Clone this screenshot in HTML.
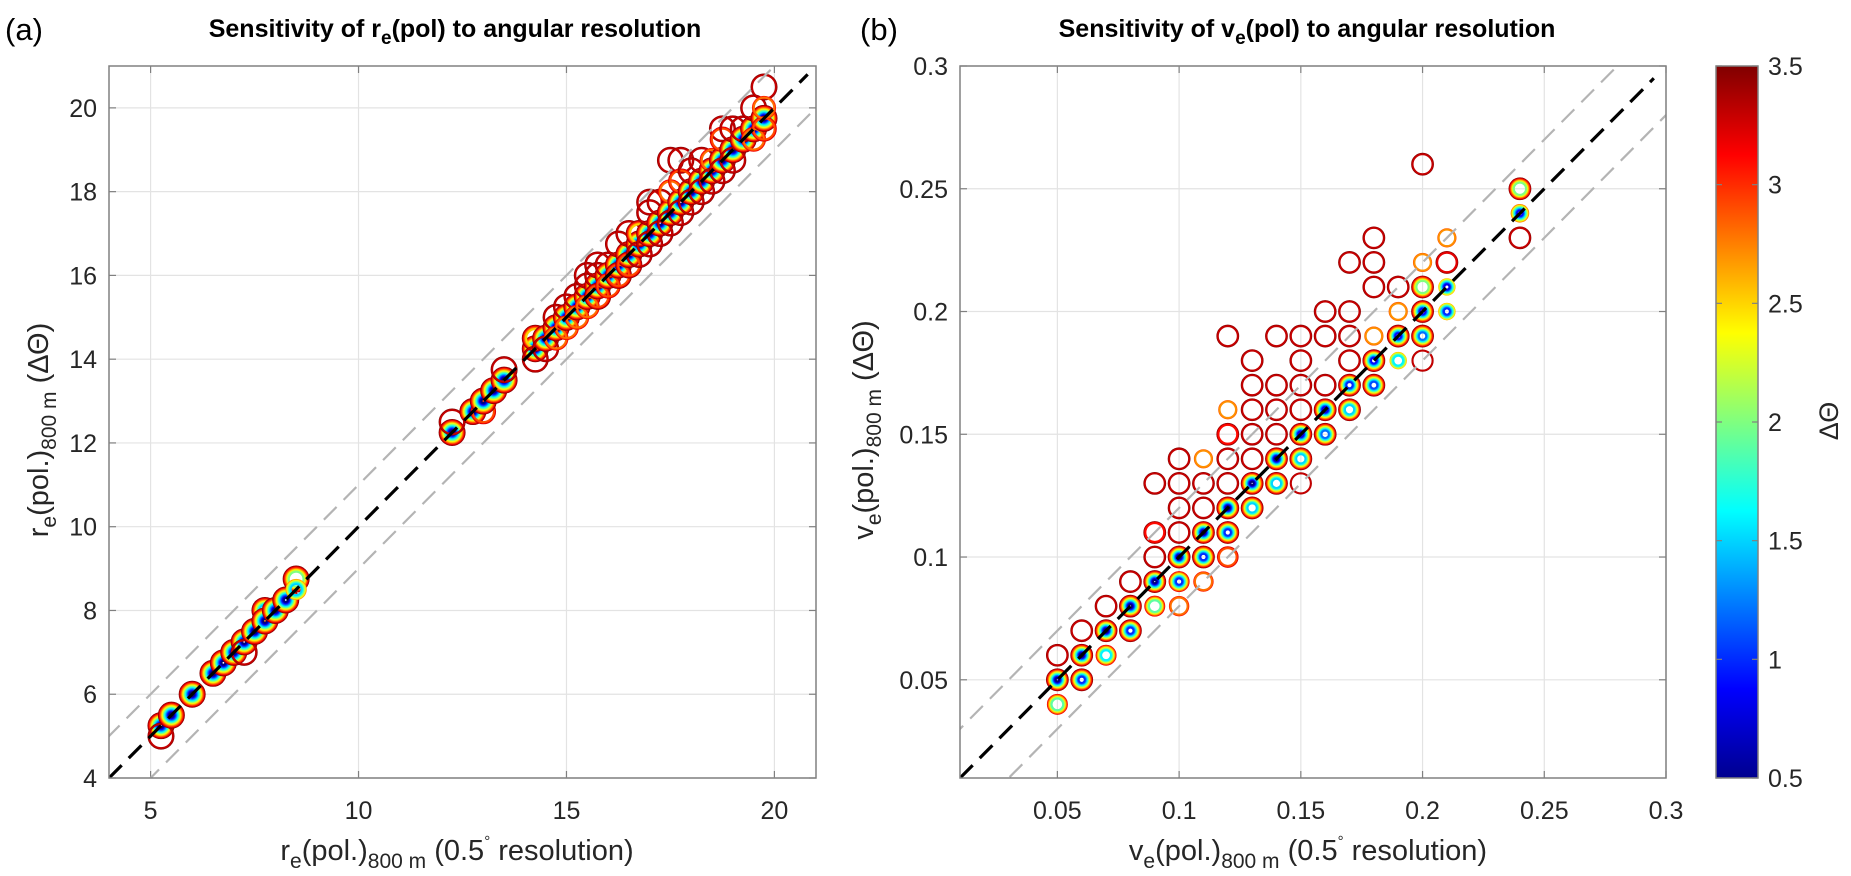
<!DOCTYPE html>
<html><head><meta charset="utf-8">
<style>
html,body{margin:0;padding:0;background:#fff;width:1851px;height:876px;overflow:hidden;}
svg{display:block;font-family:"Liberation Sans",Arial,sans-serif;}
.tick{font-size:25px;fill:#262626;}
</style></head>
<body>
<svg id="fig" width="1851" height="876" viewBox="0 0 1851 876" xmlns="http://www.w3.org/2000/svg">
<defs>
<linearGradient id="jet" x1="0" y1="1" x2="0" y2="0">
<stop offset="0" stop-color="#00008f"/><stop offset="0.125" stop-color="#0000ff"/>
<stop offset="0.375" stop-color="#00ffff"/><stop offset="0.625" stop-color="#ffff00"/>
<stop offset="0.875" stop-color="#ff0000"/><stop offset="1" stop-color="#800000"/>
</linearGradient>
<clipPath id="clipA"><rect x="109" y="66" width="707" height="712"/></clipPath>
<clipPath id="clipB"><rect x="960" y="66" width="706" height="712"/></clipPath>
</defs>
<text x="5" y="40" font-size="31" fill="#000">(a)</text>
<text x="455" y="37" font-size="25" font-weight="bold" text-anchor="middle" fill="#000">Sensitivity of r<tspan font-size="19" dy="7">e</tspan><tspan dy="-7">(pol) to angular resolution</tspan></text>
<text x="860" y="40" font-size="31" fill="#000">(b)</text>
<text x="1307" y="37" font-size="25" font-weight="bold" text-anchor="middle" fill="#000">Sensitivity of v<tspan font-size="19" dy="7">e</tspan><tspan dy="-7">(pol) to angular resolution</tspan></text>

<text x="457" y="860" font-size="29" text-anchor="middle" fill="#262626">r<tspan font-size="21" dy="8">e</tspan><tspan dy="-8">(pol.)</tspan><tspan font-size="21" dy="8">800 m</tspan><tspan dy="-8"> (0.5</tspan><tspan font-size="15" dy="-14">°</tspan><tspan dy="14"> resolution)</tspan></text>
<text x="1308" y="860" font-size="29" text-anchor="middle" fill="#262626">v<tspan font-size="21" dy="8">e</tspan><tspan dy="-8">(pol.)</tspan><tspan font-size="21" dy="8">800 m</tspan><tspan dy="-8"> (0.5</tspan><tspan font-size="15" dy="-14">°</tspan><tspan dy="14"> resolution)</tspan></text>
<text transform="translate(48,430) rotate(-90)" font-size="29" text-anchor="middle" fill="#262626">r<tspan font-size="21" dy="8">e</tspan><tspan dy="-8">(pol.)</tspan><tspan font-size="21" dy="8">800 m</tspan><tspan dy="-8">  (ΔΘ)</tspan></text>
<text transform="translate(873,430) rotate(-90)" font-size="29" text-anchor="middle" fill="#262626">v<tspan font-size="21" dy="8">e</tspan><tspan dy="-8">(pol.)</tspan><tspan font-size="21" dy="8">800 m</tspan><tspan dy="-8">  (ΔΘ)</tspan></text>

<rect x="1716" y="66" width="42" height="712" fill="url(#jet)" stroke="#808080" stroke-width="1.5"/>
<text transform="translate(1838,421) rotate(-90)" font-size="27" text-anchor="middle" fill="#262626">ΔΘ</text>
<g id="layer"></g>
</svg>
<script>
// Panel (a) data
const aX = [5.25,5.25,5.5,6,6.5,6.75,7,7.25,7.25,7.5,7.75,7.75,8,8.25,8.5,8.5,12.25,12.25,12.75,13,13,13.25,13.5,13.5,14.25,14.25,14.25,14.5,14.5,14.75,14.75,14.75,15,15,15,15.25,15.25,15.25,15.5,15.5,15.5,15.5,15.75,15.75,15.75,15.75,16,16,16,16.25,16.25,16.25,16.5,16.5,16.5,16.75,16.75,16.75,17,17,17,17,17.25,17.25,17.25,17.5,17.5,17.5,17.5,17.75,17.75,17.75,17.75,18,18,18,18.25,18.25,18.25,18.5,18.5,18.5,18.75,18.75,18.75,18.75,19,19,19,19.25,19.25,19.5,19.5,19.5,19.75,19.75,19.75,19.75];
const aY = [5.25,5.0,5.5,6,6.5,6.75,7,7.25,7.0,7.5,8,7.75,8,8.25,8.75,8.5,12.25,12.5,12.75,12.75,13,13.25,13.5,13.75,14.25,14.5,14.0,14.5,14.25,14.75,15,14.5,15,15.25,14.75,15.25,15.5,15,15.5,15.75,16,15.25,15.75,16.25,16,15.5,16,16.25,15.75,16.25,16.75,16,16.5,17,16.25,16.75,17,16.5,17,17.5,17.75,16.75,17.25,17.75,17,17.5,18.75,18,17.25,17.75,18.75,18.25,17.5,18,18.5,17.75,18.25,18.75,18,18.5,18.75,18.25,18.75,19.5,19.25,18.5,19,19.5,18.75,19.25,19.5,19.5,20,19.25,19.75,20.5,19.5,20];
const aMin = [0.5,3.3,0.5,0.5,0.5,0.5,0.5,0.5,3.3,0.5,1.5,0.5,0.5,0.5,2.0,1.5,0.5,3.3,0.5,2.9,0.5,0.5,0.5,3.3,0.5,2.5,3.3,0.5,3.3,0.5,3.3,2.8,0.5,3.3,2.8,0.5,3.3,2.8,0.5,3.3,3.3,2.8,0.5,3.3,3.3,2.9,0.5,3.3,2.9,0.5,3.3,2.9,0.5,3.3,2.9,0.5,2.5,3.3,0.5,3.3,3.3,3.3,0.5,3.3,3.3,0.5,3.3,2.8,3.3,0.5,3.3,2.9,3.3,0.5,3.3,3.3,0.5,3.3,3.3,0.5,2.8,3.3,0.5,3.3,2.9,3.3,0.5,3.3,3.3,0.5,3.3,0.5,3.3,2.8,0.5,3.3,2.9,2.8];
const aMax = [3.5,3.5,3.5,3.5,3.5,3.5,3.5,3.5,3.5,3.5,3.5,3.5,3.5,3.5,3.5,2.7,3.5,3.5,3.5,3.3,3.5,3.5,3.5,3.5,3.5,3.5,3.5,3.5,3.5,3.5,3.5,3.2,3.5,3.5,3.2,3.5,3.5,3.2,3.5,3.5,3.5,3.2,3.5,3.5,3.5,3.5,3.5,3.5,3.3,3.5,3.5,3.5,3.5,3.5,3.5,3.5,3.5,3.5,3.5,3.5,3.5,3.5,3.5,3.5,3.5,3.5,3.5,3.2,3.5,3.5,3.5,3.3,3.5,3.5,3.5,3.5,3.5,3.5,3.5,3.5,3.2,3.5,3.5,3.5,3.3,3.5,3.5,3.5,3.5,3.5,3.5,3.5,3.5,3.2,3.5,3.5,3.3,3.1];
// Panel (b) data
const bX = [0.05,0.05,0.05,0.06,0.06,0.06,0.07,0.07,0.07,0.08,0.08,0.08,0.09,0.09,0.09,0.09,0.09,0.10,0.10,0.10,0.10,0.10,0.10,0.10,0.11,0.11,0.11,0.11,0.11,0.11,0.12,0.12,0.12,0.12,0.12,0.12,0.12,0.12,0.13,0.13,0.13,0.13,0.13,0.13,0.13,0.14,0.14,0.14,0.14,0.14,0.14,0.15,0.15,0.15,0.15,0.15,0.15,0.15,0.16,0.16,0.16,0.16,0.16,0.17,0.17,0.17,0.17,0.17,0.17,0.18,0.18,0.18,0.18,0.18,0.18,0.19,0.19,0.19,0.19,0.20,0.20,0.20,0.20,0.20,0.20,0.21,0.21,0.21,0.21,0.21,0.24,0.24,0.24];
const bY = [0.06,0.05,0.04,0.07,0.06,0.05,0.08,0.07,0.06,0.09,0.08,0.07,0.13,0.11,0.10,0.09,0.08,0.14,0.13,0.12,0.11,0.10,0.09,0.08,0.14,0.13,0.12,0.11,0.10,0.09,0.19,0.16,0.15,0.14,0.13,0.12,0.11,0.10,0.18,0.17,0.16,0.15,0.14,0.13,0.12,0.19,0.17,0.16,0.15,0.14,0.13,0.19,0.18,0.17,0.16,0.15,0.14,0.13,0.20,0.19,0.17,0.16,0.15,0.22,0.20,0.19,0.18,0.17,0.16,0.23,0.22,0.21,0.19,0.18,0.17,0.21,0.20,0.19,0.18,0.26,0.22,0.21,0.20,0.19,0.18,0.23,0.22,0.21,0.20,0.20,0.25,0.24,0.23];
const bMin = [3.3,0.5,1.9,3.3,0.5,1.0,3.3,0.5,1.6,3.3,0.5,1.0,3.3,3.1,3.3,0.5,1.9,3.3,3.3,3.3,3.3,0.5,1.0,2.8,2.7,3.3,3.3,0.5,1.0,2.8,3.3,2.7,3.1,3.3,3.3,0.5,1.0,2.9,3.3,3.3,3.3,3.3,3.3,0.5,1.5,3.3,3.3,3.3,3.3,0.5,1.5,3.3,3.3,3.3,3.3,0.8,1.5,3.3,3.3,3.3,3.3,0.8,1.2,3.3,3.3,3.3,3.3,1.0,1.5,3.3,3.3,3.3,2.7,0.9,1.1,3.3,2.7,0.9,1.6,3.3,2.7,2.0,0.9,1.2,3.3,2.7,3.2,0.8,1.0,1.0,2.0,0.9,3.3];
const bMax = [3.5,3.5,3.2,3.5,3.5,3.5,3.5,3.5,3.2,3.5,3.5,3.5,3.5,3.5,3.5,3.5,3.2,3.5,3.5,3.5,3.5,3.5,3.2,3.1,2.9,3.5,3.5,3.5,3.5,3.1,3.5,2.9,3.5,3.5,3.5,3.5,3.5,3.3,3.5,3.5,3.5,3.5,3.5,3.5,3.5,3.5,3.5,3.5,3.5,3.5,3.5,3.5,3.5,3.5,3.5,3.5,3.5,3.4,3.5,3.5,3.5,3.5,3.5,3.5,3.5,3.5,3.5,3.5,3.5,3.5,3.5,3.5,2.9,3.5,3.5,3.5,2.9,3.5,2.6,3.5,2.9,3.5,3.5,3.5,3.4,2.9,3.5,2.6,2.6,2.6,3.5,2.8,3.5];
const aTicksX = [5,10,15,20], aTicksY = [4,6,8,10,12,14,16,18,20];
const bTicks = [0.05,0.1,0.15,0.2,0.25,0.3];
const bTickLabels = ['0.05','0.1','0.15','0.2','0.25','0.3'];
const cbTicks = [0.5,1,1.5,2,2.5,3,3.5];

const NS='http://www.w3.org/2000/svg';
const layer=document.getElementById('layer');
function mk(tag,attrs,parent){const e=document.createElementNS(NS,tag);for(const k in attrs)e.setAttribute(k,attrs[k]);(parent||layer).appendChild(e);return e;}
function jet(t){t=Math.max(0,Math.min(1,t));
 const r=Math.max(0,Math.min(1,1.5-Math.abs(4*t-3))),g=Math.max(0,Math.min(1,1.5-Math.abs(4*t-2))),b=Math.max(0,Math.min(1,1.5-Math.abs(4*t-1)));
 return `rgb(${Math.round(r*255)},${Math.round(g*255)},${Math.round(b*255)})`;}

function panel(o){
 const sx=v=>o.x0+(v-o.xmin)/(o.xmax-o.xmin)*o.w;
 const sy=v=>o.y0+o.h-(v-o.ymin)/(o.ymax-o.ymin)*o.h;
 const g=mk('g',{});
 
 
 mk('rect',{x:o.x0,y:o.y0,width:o.w,height:o.h,fill:'#fff'},g);
 o.xt.forEach((v,i)=>{const x=sx(v);
  const l=mk('line',{x1:x,x2:x,y1:o.y0,y2:o.y0+o.h,stroke:'#e3e3e3','stroke-width':1.2},g);
  
  
  mk('line',{x1:x,x2:x,y1:o.y0+o.h,y2:o.y0+o.h-7,stroke:'#808080','stroke-width':1.2},g);
  mk('line',{x1:x,x2:x,y1:o.y0,y2:o.y0+7,stroke:'#808080','stroke-width':1.2},g);
  const t=mk('text',{x:x,y:o.y0+o.h+41,'text-anchor':'middle',class:'tick'},g);
  t.textContent=o.xl[i];
  
  });
 o.yt.forEach((v,i)=>{const y=sy(v);
  const l=mk('line',{x1:o.x0,x2:o.x0+o.w,y1:y,y2:y,stroke:'#e3e3e3','stroke-width':1.2},g);
  
  
  mk('line',{x1:o.x0,x2:o.x0+7,y1:y,y2:y,stroke:'#808080','stroke-width':1.2},g);
  mk('line',{x1:o.x0+o.w,x2:o.x0+o.w-7,y1:y,y2:y,stroke:'#808080','stroke-width':1.2},g);
  const t=mk('text',{x:o.x0-12,y:y+9,'text-anchor':'end',class:'tick'},g);
  t.textContent=o.yl[i];
  
  });
 const c=mk('g',{'clip-path':`url(#${o.clip})`},g);
 const mg=mk('g',{},c);
 
 
 for(let i=0;i<o.X.length;i++){
  const cx=sx(o.X[i]),cy=sy(o.Y[i]);
  const pg=mk('g',{},mg);
  
  
  for(let d=o.Mx[i];d>=o.Mn[i]-1e-6;d-=0.1){
   mk('circle',{cx:cx,cy:cy,r:(o.k*d).toFixed(2),fill:'none',stroke:jet((d-0.5)/3),'stroke-width':1.8},pg);
  }
 }
 const lo=o.xmin-1,hi=o.xmax+1;
 [[o.off,'upper-bound-line'],[-o.off,'lower-bound-line']].forEach(([off,n])=>{
  const l=mk('line',{x1:sx(lo),y1:sy(lo+off),x2:sx(hi),y2:sy(hi+off),stroke:'#b4b4b4','stroke-width':2.2,'stroke-dasharray':'18 10'},c);
  
  });
 const l=mk('line',{x1:sx(o.xmin),y1:sy(o.xmin),x2:sx(o.lineEnd),y2:sy(o.lineEnd),stroke:'#000','stroke-width':3.2,'stroke-dasharray':'18 10'},c);
 
 
 mk('rect',{x:o.x0,y:o.y0,width:o.w,height:o.h,fill:'none',stroke:'#808080','stroke-width':1.5},g);
}
panel({name:'panel-a',x0:109,y0:66,w:707,h:712,xmin:4,xmax:21,ymin:4,ymax:21,xt:aTicksX,xl:aTicksX.map(String),yt:aTicksY,yl:aTicksY.map(String),X:aX,Y:aY,Mn:aMin,Mx:aMax,k:3.6,off:1,lineEnd:20.8,clip:'clipA'});
panel({name:'panel-b',x0:960,y0:66,w:706,h:712,xmin:0.01,xmax:0.3,ymin:0.01,ymax:0.3,xt:bTicks,xl:bTickLabels,yt:bTicks,yl:bTickLabels,X:bX,Y:bY,Mn:bMin,Mx:bMax,k:3.0,off:0.02,lineEnd:0.295,clip:'clipB'});
cbTicks.forEach(v=>{const y=778-(v-0.5)/3*712;
 mk('line',{x1:1758,x2:1752,y1:y,y2:y,stroke:'#808080','stroke-width':1.2});
 mk('line',{x1:1716,x2:1722,y1:y,y2:y,stroke:'#808080','stroke-width':1.2});
 const t=mk('text',{x:1768,y:y+9,class:'tick'});
 t.textContent=String(v);
 
 });
</script>
</body></html>
